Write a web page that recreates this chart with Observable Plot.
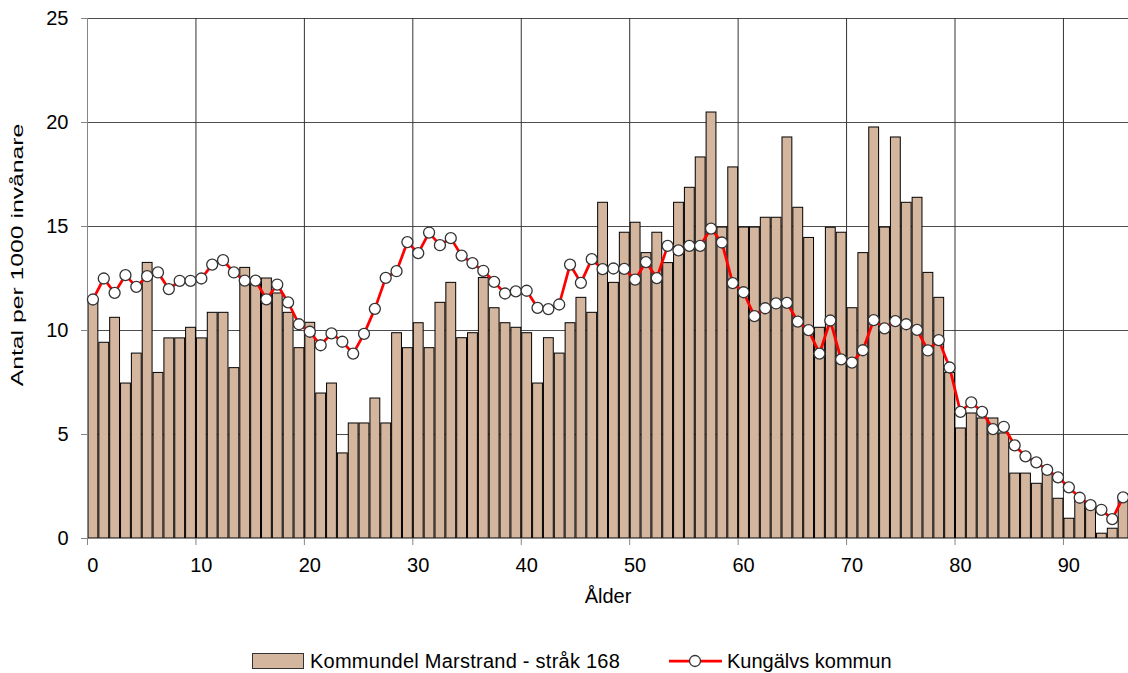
<!DOCTYPE html>
<html>
<head>
<meta charset="utf-8">
<script src="https://cdn.jsdelivr.net/npm/d3@7"></script>
<script src="https://cdn.jsdelivr.net/npm/@observablehq/plot@0.6"></script>
<style>
  html, body { margin: 0; padding: 0; background: #fff; overflow: hidden; }
  body { font-family: "Liberation Sans", Arial, sans-serif; }
  #legend { display: block; }
</style>
</head>
<body>
<div id="chart"></div>
<svg id="legend" width="1128" height="58"></svg>
<script>
// Age categories 0..95
const ages = d3.range(0, 96);

// Kommundel Marstrand - stråk 168 (bars), per 1000 invånare
const marstrand = [
  11.36, 9.41, 10.61, 7.45, 8.89, 13.25, 7.96, 9.62, 9.62, 10.13,
  9.62, 10.85, 10.85, 8.19, 13.01, 12.4, 12.5, 11.78, 10.85, 9.15,
  10.37, 6.97, 7.45, 4.09, 5.53, 5.53, 6.73, 5.53, 9.87, 9.15,
  10.35, 9.15, 11.33, 12.29, 9.63, 9.87, 12.52, 11.07, 10.35, 10.13,
  9.87, 7.45, 9.63, 8.89, 10.35, 11.57, 10.85, 16.14, 12.29, 14.7,
  15.18, 13.72, 14.7, 13.24, 16.14, 16.86, 18.32, 20.48, 14.95, 17.84,
  14.95, 14.95, 15.42, 15.42, 19.28, 15.9, 14.45, 10.13, 14.94, 14.7,
  11.07, 13.72, 19.76, 14.95, 19.28, 16.14, 16.38, 12.77, 11.57, 7.96,
  5.29, 6.01, 5.77, 5.77, 5.05, 3.12, 3.12, 2.63, 3.12, 1.91,
  0.95, 1.8, 1.7, 0.23, 0.47, 1.8
];

// Kungälvs kommun (line with markers), per 1000 invånare
const kungalv = [
  11.49, 12.5, 11.81, 12.66, 12.1, 12.61, 12.79, 11.99, 12.39, 12.39,
  12.5, 13.17, 13.38, 12.79, 12.4, 12.4, 11.5, 12.21, 11.35, 10.3,
  9.94, 9.29, 9.86, 9.46, 8.89, 9.84, 11.04, 12.53, 12.85, 14.25,
  13.72, 14.71, 14.1, 14.44, 13.6, 13.24, 12.87, 12.34, 11.78, 11.88,
  11.91, 11.09, 11.03, 11.25, 13.17, 12.29, 13.43, 12.95, 12.98, 12.96,
  12.45, 13.29, 12.52, 14.07, 13.85, 14.07, 14.07, 14.9, 14.23, 12.28,
  11.84, 10.69, 11.07, 11.3, 11.33, 10.43, 10.02, 8.89, 10.48, 8.61,
  8.46, 9.05, 10.5, 10.1, 10.45, 10.3, 10.03, 9.04, 9.54, 8.22,
  6.09, 6.54, 6.09, 5.26, 5.37, 4.48, 3.95, 3.66, 3.3, 2.94,
  2.46, 1.96, 1.6, 1.38, 0.93, 1.98
];

const xTicks = [0, 10, 20, 30, 40, 50, 60, 70, 80, 90];
const yTicks = [0, 5, 10, 15, 20, 25];

const seriesBarName = "Kommundel Marstrand - stråk 168";
const seriesLineName = "Kungälvs kommun";
const xLabel = "Ålder";
const yLabel = "Antal per 1000 invånare";

const barFill = "#D4B59E";
const lineColor = "#FF0000";
const axisGray = "#868686";

const data = ages.map((a, i) => ({age: a, m: marstrand[i], k: kungalv[i]}));

const chart = Plot.plot({
  width: 1128,
  height: 615,
  marginLeft: 87,
  marginRight: 0,
  marginTop: 18,
  marginBottom: 77,
  x: {domain: [0, 96]},
  y: {domain: [0, 25]},
  style: {fontFamily: "'Liberation Sans', Arial, sans-serif", fontSize: "20px", color: "#000", background: "#fff", overflow: "visible"},
  marks: [
    Plot.gridY(yTicks.slice(1), {stroke: "#4d4d4d", strokeOpacity: 1}),
    Plot.gridX(xTicks.slice(1), {stroke: "#333", strokeOpacity: 1}),
    Plot.rectY(data, {x: "age", interval: 1, y: "m", fill: barFill, stroke: "#000", strokeWidth: 1}),
    Plot.ruleY([0], {stroke: axisGray}),
    Plot.ruleX([0], {stroke: axisGray}),
    Plot.axisY(yTicks, {tickSize: 6, tickPadding: 13, stroke: axisGray, label: null}),
    Plot.axisX(xTicks, {tickSize: 7, tickFormat: () => "", stroke: axisGray, label: null}),
    Plot.axisX(xTicks.map(t => t + 0.5), {tickSize: 0, tickPadding: 19, tickFormat: d => String(d - 0.5), label: null}),
    Plot.text([xLabel], {frameAnchor: "bottom", dy: 64, fontSize: 20}),
    Plot.line(data, {x: d => d.age + 0.5, y: "k", stroke: lineColor, strokeWidth: 2.75}),
    Plot.dot(data, {x: d => d.age + 0.5, y: "k", r: 5.5, fill: "#fff", stroke: "#333", strokeWidth: 1.3})
  ]
});

// Y axis title (stretched along its length like the reference)
d3.select(chart).append("text")
  .attr("transform", "translate(23,255) rotate(-90) scale(1.5,1)")
  .attr("text-anchor", "middle")
  .attr("font-size", 16.5)
  .attr("fill", "#000")
  .text(yLabel);

document.getElementById("chart").appendChild(chart);

// Legend below the chart
const lg = d3.select("#legend").attr("font-family", "'Liberation Sans', Arial, sans-serif").attr("font-size", 20);
lg.append("rect").attr("x", 252.5).attr("y", 38.5).attr("width", 51).attr("height", 15)
  .attr("fill", barFill).attr("stroke", "#333").attr("stroke-width", 1);
lg.append("text").attr("x", 310).attr("y", 53).attr("fill", "#000").attr("letter-spacing", 0.25).text(seriesBarName);
lg.append("line").attr("x1", 669).attr("x2", 722).attr("y1", 46).attr("y2", 46)
  .attr("stroke", lineColor).attr("stroke-width", 2.75);
lg.append("circle").attr("cx", 695).attr("cy", 46).attr("r", 5.5)
  .attr("fill", "#fff").attr("stroke", "#333").attr("stroke-width", 1.3);
lg.append("text").attr("x", 727).attr("y", 53).attr("fill", "#000").text(seriesLineName);
</script>
</body>
</html>
